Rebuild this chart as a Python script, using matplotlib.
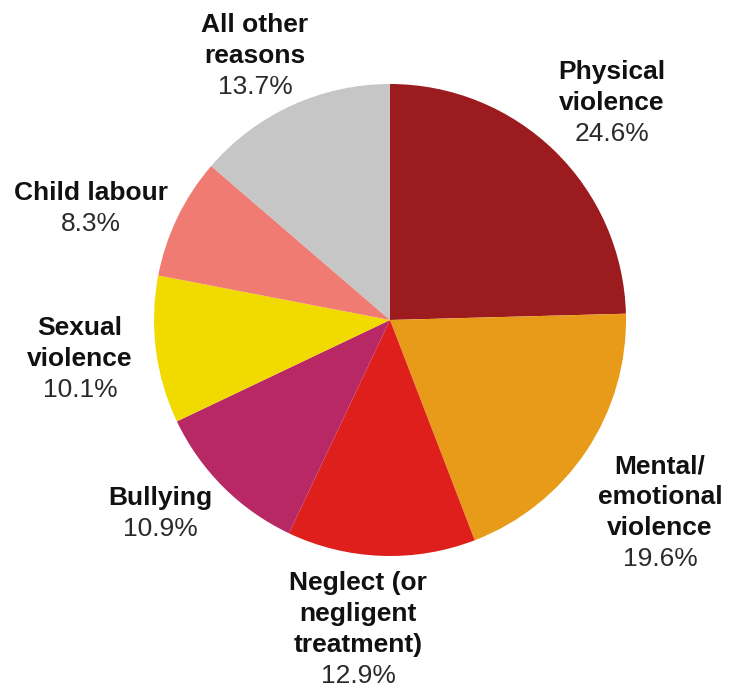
import matplotlib.pyplot as plt

labels = ["Physical\nviolence", "Mental/\nemotional\nviolence", "Neglect (or\nnegligent\ntreatment)",
          "Bullying", "Sexual\nviolence", "Child labour", "All other\nreasons"]
values = [24.6, 19.6, 12.9, 10.9, 10.1, 8.3, 13.7]
colors = ["#9c1b1e", "#e89b18", "#de1f1c", "#b82865", "#f0da00", "#f07b72", "#c6c6c6"]

# label anchors in pixels: centre x, centre y of first line
label_pos = [(612, 72), (660, 466), (358, 583), (160, 498), (80, 328), (91, 193), (255, 25)]
line_gap = 31

W, H = 732, 691
plt.rcParams['font.family'] = ['Liberation Sans', 'DejaVu Sans']
fig = plt.figure(figsize=(W / 100, H / 100), dpi=100)
ax = fig.add_axes([0, 0, 1, 1])
ax.pie(values, colors=colors, startangle=90, counterclock=False,
       center=(390, H - 320), radius=236, wedgeprops=dict(linewidth=0))
ax.set_xlim(0, W)
ax.set_ylim(0, H)
ax.set_aspect('equal')
ax.axis('off')

for lab, v, (x, y) in zip(labels, values, label_pos):
    lines = lab.split("\n")
    for i, ln in enumerate(lines):
        ax.text(x, H - (y + i * line_gap), ln, ha='center', va='center',
                fontsize=19, fontweight='bold', color='#111111')
    ax.text(x, H - (y + len(lines) * line_gap), f"{v}%", ha='center', va='center',
            fontsize=19, color='#2a2a2a')

fig.savefig("out.png", dpi=100)
